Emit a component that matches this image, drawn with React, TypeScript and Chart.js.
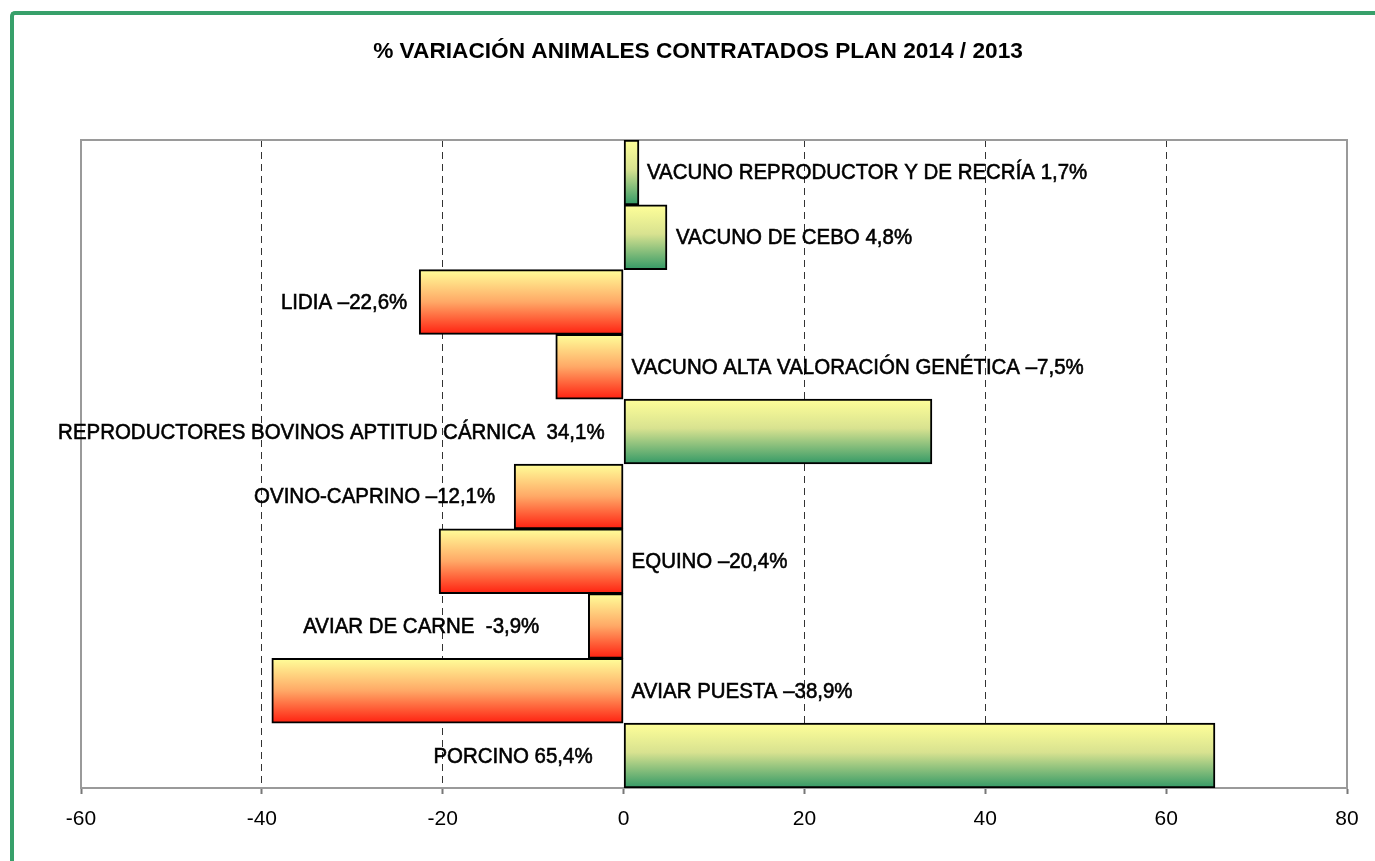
import React, { useEffect, useRef } from "react";
import { Chart, registerables } from "chart.js";

Chart.register(...registerables);

const TITLE = "% VARIACIÓN ANIMALES CONTRATADOS PLAN 2014 / 2013";

const CATEGORIES = [
  "VACUNO REPRODUCTOR Y DE RECRÍA",
  "VACUNO DE CEBO",
  "LIDIA",
  "VACUNO ALTA VALORACIÓN GENÉTICA",
  "REPRODUCTORES BOVINOS APTITUD CÁRNICA",
  "OVINO-CAPRINO",
  "EQUINO",
  "AVIAR DE CARNE",
  "AVIAR PUESTA",
  "PORCINO",
];

const VALUES = [1.7, 4.8, -22.6, -7.5, 34.1, -12.1, -20.4, -3.9, -38.9, 65.4];

const LABELS = [
  "VACUNO REPRODUCTOR Y DE RECRÍA 1,7%",
  "VACUNO DE CEBO 4,8%",
  "LIDIA –22,6%",
  "VACUNO ALTA VALORACIÓN GENÉTICA –7,5%",
  "REPRODUCTORES BOVINOS APTITUD CÁRNICA  34,1%",
  "OVINO-CAPRINO –12,1%",
  "EQUINO –20,4%",
  "AVIAR DE CARNE  -3,9%",
  "AVIAR PUESTA –38,9%",
  "PORCINO 65,4%",
];

// label anchor: "end" = bar end, "zero" = axis zero; side: 1 right, -1 left; pixel gap
const LABEL_ANCHOR = ["end", "end", "end", "zero", "zero", "end", "zero", "end", "zero", "zero"];
const LABEL_SIDE = [1, 1, -1, 1, -1, -1, 1, -1, 1, -1];
const LABEL_GAP = [8, 9, 12, 8, 19, 19, 8, 49, 8, 31];

const X_MIN = -60;
const X_MAX = 80;
const X_STEP = 20;

const LABEL_FONT = '22px "Liberation Sans", Arial, sans-serif';
const LABEL_SCALE = 0.93;
const TITLE_FONT = 'bold 22px "Liberation Sans", Arial, sans-serif';
const TITLE_SCALE = 1.03;

function barGradient(ctx: any) {
  const chart = ctx.chart;
  const i = ctx.dataIndex;
  const area = chart.chartArea;
  const y = chart.scales?.y;
  if (!area || !y || i === undefined) return "#FFFF99";
  const c = y.getPixelForValue(i);
  const half = (area.bottom - area.top) / CATEGORIES.length / 2;
  const g = chart.ctx.createLinearGradient(0, c - half, 0, c + half);
  if (VALUES[i] >= 0) {
    g.addColorStop(0, "#FFFF99");
    g.addColorStop(0.45, "#D8E290");
    g.addColorStop(1, "#339966");
  } else {
    g.addColorStop(0, "#FFFF99");
    g.addColorStop(0.5, "#FFA866");
    g.addColorStop(1, "#FF2010");
  }
  return g;
}

function scaledText(
  ctx: CanvasRenderingContext2D,
  text: string,
  x: number,
  y: number,
  align: "left" | "right" | "center",
  sx: number,
  stroke: number
) {
  const w = ctx.measureText(text).width * sx;
  const left = align === "left" ? x : align === "right" ? x - w : x - w / 2;
  ctx.save();
  ctx.translate(left, y);
  ctx.scale(sx, 1);
  ctx.textAlign = "left";
  ctx.fillText(text, 0, 0);
  if (stroke > 0) {
    ctx.lineWidth = stroke;
    ctx.strokeStyle = "#000";
    ctx.strokeText(text, 0, 0);
  }
  ctx.restore();
}

const framePlugin = {
  id: "framePlugin",
  beforeDatasetsDraw(chart: any) {
    const { ctx, chartArea: a } = chart;
    ctx.save();
    ctx.strokeStyle = "#9a9a9a";
    ctx.lineWidth = 2;
    ctx.strokeRect(a.left, a.top, a.right - a.left, a.bottom - a.top);
    ctx.restore();
  },
  afterDraw(chart: any) {
    const { ctx, scales } = chart;
    const x = scales.x;
    const y = scales.y;
    ctx.save();
    ctx.fillStyle = "#000";
    ctx.textBaseline = "middle";
    ctx.font = TITLE_FONT;
    scaledText(ctx, TITLE, 698, 52, "center", TITLE_SCALE, 0);
    ctx.font = LABEL_FONT;
    LABELS.forEach((t, i) => {
      const base = LABEL_ANCHOR[i] === "end" ? x.getPixelForValue(VALUES[i]) : x.getPixelForValue(0);
      const side = LABEL_SIDE[i];
      scaledText(ctx, t, base + side * LABEL_GAP[i], y.getPixelForValue(i) + 1, side > 0 ? "left" : "right", LABEL_SCALE, 0.6);
    });
    ctx.restore();
  },
};

export default function App() {
  const ref = useRef<HTMLCanvasElement | null>(null);
  useEffect(() => {
    if (!ref.current) return;
    const chart = new Chart(ref.current, {
      type: "bar",
      data: {
        labels: CATEGORIES,
        datasets: [
          {
            data: VALUES,
            backgroundColor: barGradient as any,
            borderColor: "#000",
            borderWidth: 2,
            borderSkipped: false,
            barPercentage: 1,
            categoryPercentage: 1,
          },
        ],
      },
      options: {
        indexAxis: "y",
        animation: false,
        responsive: false,
        maintainAspectRatio: false,
        layout: { padding: { left: 81, right: 28, top: 140, bottom: 0 } },
        plugins: { legend: { display: false }, tooltip: { enabled: false }, title: { display: false } },
        scales: {
          x: {
            type: "linear",
            min: X_MIN,
            max: X_MAX,
            ticks: {
              stepSize: X_STEP,
              color: "#000",
              padding: 13,
              font: { family: '"Liberation Sans", Arial, sans-serif', size: 21 },
            },
            grid: {
              color: (c: any) => {
                const v = c.tick?.value;
                return v === X_MIN || v === X_MAX || v === 0 ? "rgba(0,0,0,0)" : "#333";
              },
              lineWidth: 1,
              drawTicks: true,
              tickLength: 6,
              tickColor: "#777",
              tickWidth: 2,
              tickBorderDash: [],
            },
            border: { display: true, color: "#777", width: 2, dash: [7, 5] },
            afterFit: (s: any) => {
              s.height = 73;
            },
          },
          y: {
            display: false,
            grid: { display: false },
          },
        },
      },
      plugins: [framePlugin],
    });
    return () => chart.destroy();
  }, []);

  return (
    <div>
      <div
        style={{
          position: "fixed",
          left: 10,
          top: 11,
          width: 1500,
          height: 1000,
          borderLeft: "4px solid #37A06A",
          borderTop: "4px solid #37A06A",
          borderTopLeftRadius: 5,
          boxSizing: "border-box",
        }}
      />
      <canvas
        ref={ref}
        width={1375}
        height={861}
        style={{ position: "fixed", left: 0, top: 0, width: 1375, height: 861 }}
      />
    </div>
  );
}
